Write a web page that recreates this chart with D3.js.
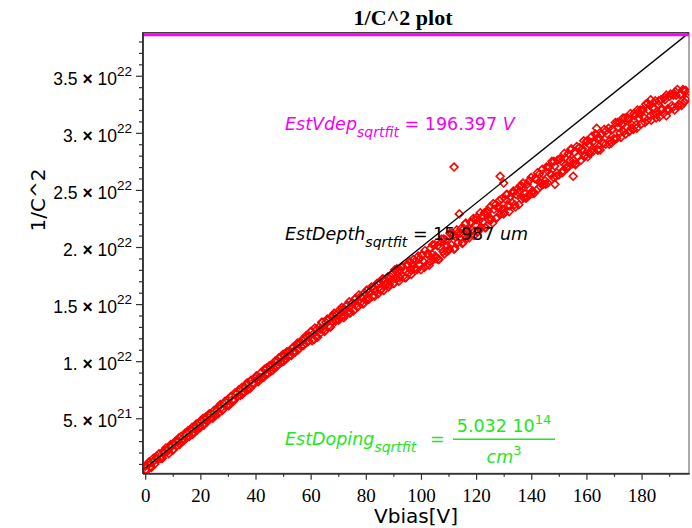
<!DOCTYPE html>
<html>
<head>
<meta charset="utf-8">
<script src="https://cdn.jsdelivr.net/npm/d3@7"></script>
<style>
  body { margin: 0; background: #fff; }
  svg { display: block; }
</style>
</head>
<body>
<svg id="chart" width="692" height="528"></svg>
<script>
// bias sweep: first point and step, V
const vStart = 0;
const vStep = 0.5;

// measured 1/C^2, in units of 1e20 (one value per bias step)
const invC2 = [
  8, 4, 9, 12, 8, 11, 15, 10, 15, 14,
  19, 15, 15, 21, 20, 24, 21, 19, 25, 25,
  22, 28, 30, 26, 30, 27, 34, 32, 31, 37,
  33, 39, 34, 39, 42, 38, 41, 45, 40, 46,
  42, 47, 50, 46, 51, 47, 53, 50, 54, 50,
  57, 53, 57, 54, 61, 59, 57, 63, 65, 61,
  66, 62, 69, 66, 65, 72, 71, 69, 75, 70,
  77, 73, 73, 79, 81, 77, 76, 83, 81, 80,
  85, 87, 82, 86, 90, 86, 86, 92, 94, 89,
  96, 91, 97, 94, 100, 95, 100, 103, 99, 99,
  106, 105, 102, 108, 104, 109, 105, 112, 109, 108,
  115, 110, 116, 113, 119, 114, 120, 122, 117, 122,
  126, 118, 124, 129, 122, 121, 130, 128, 134, 128,
  126, 134, 137, 131, 130, 139, 135, 142, 135, 141,
  136, 145, 139, 145, 138, 145, 149, 143, 152, 143,
  151, 144, 154, 150, 148, 158, 151, 156, 150, 160,
  154, 162, 154, 161, 165, 157, 163, 161, 168, 159,
  169, 163, 172, 162, 170, 167, 174, 167, 174, 171,
  168, 180, 172, 179, 170, 180, 182, 174, 180, 173,
  185, 177, 187, 176, 185, 181, 188, 180, 192, 185,
  180, 193, 187, 197, 184, 194, 184, 199, 194, 189,
  202, 190, 201, 189, 200, 207, 196, 194, 206, 201,
  197, 212, 202, 210, 198, 209, 215, 204, 208, 216,
  203, 216, 220, 208, 215, 208, 222, 215, 225, 214,
  224, 213, 223, 230, 217, 222, 230, 217, 230, 224,
  235, 224, 221, 233, 237, 226, 234, 241, 229, 233,
  229, 242, 246, 236, 231, 244, 239, 249, 237, 246,
  251, 237, 249, 242, 256, 247, 243, 255, 252, 246,
  261, 249, 247, 260, 259, 251, 264, 256, 268, 255,
  258, 270, 256, 270, 264, 275, 261, 271, 262, 276,
  263, 277, 275, 267, 282, 272, 269, 282, 276, 286,
  273, 283, 272, 288, 279, 287, 276, 286, 293, 280,
  292, 279, 290, 284, 297, 284, 291, 298, 285, 296,
  285, 299, 291, 303, 290, 299, 304, 293, 291, 303,
  295, 309, 295, 305, 309, 296, 307, 301, 313, 305,
  313, 301, 317, 307, 303, 315, 307, 320, 313, 320,
  308, 320, 313, 325, 311, 320, 324, 311, 322, 316,
  328, 316, 325, 314, 329, 321, 317, 329, 333, 321,
  320, 334, 324, 333, 320, 333, 338, 325, 333, 324,
  338, 327, 337, 331
];

// second sweep, interleaved: first point and step, V
const vStartB = 0.25;
const vStepB = 1;
const invC2B = [
  5, 11, 7, 13, 17, 15, 15, 22, 22, 27,
  23, 30, 33, 30, 31, 37, 40, 36, 43, 42,
  48, 44, 50, 54, 51, 52, 59, 62, 58, 64,
  61, 69, 66, 72, 75, 71, 77, 75, 83, 80,
  87, 84, 85, 93, 90, 95, 92, 100, 97, 104,
  100, 108, 105, 111, 108, 116, 116, 114, 122, 118,
  126, 119, 128, 124, 134, 127, 136, 130, 140, 136,
  136, 147, 140, 149, 142, 151, 155, 148, 157, 151,
  162, 155, 164, 157, 168, 162, 172, 167, 165, 176,
  168, 181, 173, 183, 173, 184, 180, 189, 181, 189,
  193, 182, 194, 187, 202, 192, 189, 204, 207, 196,
  198, 212, 199, 212, 212, 204, 221, 211, 221, 210,
  226, 216, 227, 217, 232, 225, 238, 225, 235, 242,
  230, 246, 236, 247, 235, 248, 254, 243, 243, 258,
  247, 260, 265, 253, 264, 255, 270, 263, 275, 265,
  277, 265, 278, 271, 285, 276, 273, 287, 285, 279,
  293, 282, 292, 299, 285, 298, 291, 302, 290, 303,
  294, 309, 300, 313, 299, 312, 304, 317, 304, 317,
  320, 309, 326, 315, 322, 313, 328, 320, 331, 320,
  332, 322, 336, 323, 334, 337, 329
];

// stray readings [V, 1/C^2 in 1e20]
const outliers = [
  [112, 270], [113.9, 229], [128.7, 262], [130, 256], [135.9, 253],
  [148.6, 255], [155.2, 262], [163.7, 304], [183.3, 329], [189, 315]
];

// sqrt fit: rising line and plateau (1e20 units)
const fitLine = [[0, 6.5], [197.2, 387.6]];
const lowFit = [[0, 7.8], [39, 83.5]];
const plateau = 386;

const xLimits = [-0.98, 197.2];
const yLimits = [1.8e20, 3.877e22];
const xTicks = [0, 20, 40, 60, 80, 100, 120, 140, 160, 180];
const xMinor = [10, 30, 50, 70, 90, 110, 130, 150, 170, 190];
const yTicks = [5e21, 1e22, 1.5e22, 2e22, 2.5e22, 3e22, 3.5e22];
const yMant = ["5.", "1.", "1.5", "2.", "2.5", "3.", "3.5"];
const yExp = ["21", "22", "22", "22", "22", "22", "22"];
const yMinor = [1e21, 2e21, 3e21, 4e21, 6e21, 7e21, 8e21, 9e21,
  1.1e22, 1.2e22, 1.3e22, 1.4e22, 1.6e22, 1.7e22, 1.8e22, 1.9e22,
  2.1e22, 2.2e22, 2.3e22, 2.4e22, 2.6e22, 2.7e22, 2.8e22, 2.9e22,
  3.1e22, 3.2e22, 3.3e22, 3.4e22, 3.6e22, 3.7e22, 3.8e22];

const E20 = 1e20;
const sans = "'DejaVu Sans', Verdana, sans-serif";
const serif = "'Liberation Serif', 'Times New Roman', serif";
const magenta = "#f000f0";
const green = "#22e622";

const svg = d3.select("#chart");
const plotLeft = 142.5, plotRight = 689, plotTop = 32.7, plotBottom = 473.3;

const x = d3.scaleLinear().domain(xLimits).range([plotLeft, plotRight]);
const y = d3.scaleLinear().domain(yLimits).range([plotBottom, plotTop]);

svg.append("defs").append("clipPath").attr("id", "plotclip")
  .append("rect")
  .attr("x", plotLeft).attr("y", plotTop)
  .attr("width", plotRight - plotLeft).attr("height", plotBottom - plotTop);

// plot box
svg.append("rect")
  .attr("x", plotLeft).attr("y", plotTop)
  .attr("width", plotRight - plotLeft).attr("height", plotBottom - plotTop)
  .attr("fill", "none").attr("stroke", "#555").attr("stroke-width", 1);

const plot = svg.append("g").attr("clip-path", "url(#plotclip)");

const diamond = "M0,-3.9L3.9,0L0,3.9L-3.9,0Z";

const points = invC2.map((v, i) => [vStart + i * vStep, v])
  .concat(invC2B.map((v, i) => [vStartB + i * vStepB, v]))
  .concat(outliers);

plot.append("g")
  .selectAll("path")
  .data(points)
  .join("path")
  .attr("d", diamond)
  .attr("transform", (d) => `translate(${x(d[0])},${y(d[1] * E20)})`)
  .attr("fill", "none")
  .attr("stroke", "#ff0000")
  .attr("stroke-width", 1.6);

const line = d3.line()
  .x((d) => x(d[0]))
  .y((d) => y(d[1] * E20));

plot.append("path")
  .datum(fitLine)
  .attr("d", line)
  .attr("fill", "none")
  .attr("stroke", "#000")
  .attr("stroke-width", 1.3);

plot.append("path")
  .datum(lowFit)
  .attr("d", line)
  .attr("fill", "none")
  .attr("stroke", green)
  .attr("stroke-width", 1.3)
  .attr("stroke-dasharray", "1.5,3");

plot.append("path")
  .datum([[xLimits[0], plateau], [xLimits[1], plateau]])
  .attr("d", line)
  .attr("fill", "none")
  .attr("stroke", "#ff00ff")
  .attr("stroke-width", 3);

svg.append("line")
  .attr("x1", plotLeft).attr("x2", plotRight)
  .attr("y1", plotTop).attr("y2", plotTop)
  .attr("stroke", "#333").attr("stroke-width", 1);

// axes
const xMinorAxis = svg.append("g")
  .attr("transform", `translate(0,${plotBottom})`)
  .call(d3.axisBottom(x).tickValues(xMinor).tickSize(3.5).tickSizeOuter(0).tickFormat(""));
const xAxis = svg.append("g")
  .attr("transform", `translate(0,${plotBottom})`)
  .call(d3.axisBottom(x).tickValues(xTicks).tickSize(6.5).tickSizeOuter(0));

const yMinorAxis = svg.append("g")
  .attr("transform", `translate(${plotLeft},0)`)
  .call(d3.axisLeft(y).tickValues(yMinor).tickSize(3.5).tickSizeOuter(0).tickFormat(""));
const yAxis = svg.append("g")
  .attr("transform", `translate(${plotLeft},0)`)
  .call(d3.axisLeft(y).tickValues(yTicks).tickSize(6.5).tickSizeOuter(0).tickFormat(""));

[xMinorAxis, xAxis, yMinorAxis, yAxis].forEach((g) => {
  g.select(".domain").attr("stroke", "#333").attr("stroke-width", 1.5);
  g.selectAll(".tick line").attr("stroke", "#333").attr("stroke-width", 1.2);
});

xAxis.selectAll(".tick text")
  .attr("y", 28.7)
  .attr("dy", null)
  .attr("fill", "#000")
  .style("font-family", serif)
  .style("font-size", "19px");

yAxis.selectAll(".tick text").each(function (d, i) {
  const t = d3.select(this)
    .attr("x", -10.5)
    .attr("y", 8.5)
    .attr("dy", null)
    .attr("fill", "#000")
    .attr("text-anchor", "end")
    .style("font-family", "'Liberation Sans', Arial, sans-serif")
    .style("font-size", "17.5px");
  t.append("tspan").text(yMant[i] + " ");
  t.append("tspan").style("font-weight", "bold").text("×");
  t.append("tspan").text(" 10");
  t.append("tspan").attr("dy", -9).style("font-size", "13.5px").text(yExp[i]);
});

// titles
svg.append("text")
  .attr("x", 403).attr("y", 25)
  .attr("text-anchor", "middle")
  .style("font-family", serif)
  .style("font-weight", "bold")
  .style("font-size", "22px")
  .text("1/C^2 plot");

svg.append("text")
  .attr("transform", "translate(45,200) rotate(-90)")
  .attr("text-anchor", "middle")
  .style("font-family", sans)
  .style("font-size", "20px")
  .text("1/C^2");

svg.append("text")
  .attr("x", 416).attr("y", 523)
  .attr("text-anchor", "middle")
  .style("font-family", sans)
  .style("font-size", "20px")
  .text("Vbias[V]");

// fit annotations
function estLabel(yPos, color, name, value, unit) {
  const t = svg.append("text")
    .attr("x", 285).attr("y", yPos)
    .attr("fill", color)
    .style("font-family", sans)
    .style("font-size", "17.5px");
  t.append("tspan").style("font-style", "italic").text(name);
  t.append("tspan").attr("dy", 7).style("font-style", "italic").style("font-size", "14px").text("sqrtfit");
  if (value !== null) {
    t.append("tspan").attr("dy", -7).text(" = " + value + " ");
    t.append("tspan").style("font-style", "italic").text(unit);
  }
  return t;
}

estLabel(130, magenta, "EstVdep", "196.397", "V");
estLabel(240, "#000", "EstDepth", "15.987", "um");
estLabel(445, green, "EstDoping", null, null);

svg.append("text")
  .attr("x", 430).attr("y", 445)
  .attr("fill", green)
  .style("font-family", sans)
  .style("font-size", "17.5px")
  .text("=");

const num = svg.append("text")
  .attr("x", 504).attr("y", 432)
  .attr("text-anchor", "middle")
  .attr("fill", green)
  .style("font-family", sans)
  .style("font-size", "17.5px");
num.append("tspan").text("5.032 10");
num.append("tspan").attr("dy", -8).style("font-size", "13px").text("14");

svg.append("line")
  .attr("x1", 453).attr("x2", 555)
  .attr("y1", 439.3).attr("y2", 439.3)
  .attr("stroke", green).attr("stroke-width", 1.5);

const den = svg.append("text")
  .attr("x", 504).attr("y", 463)
  .attr("text-anchor", "middle")
  .attr("fill", green)
  .style("font-family", sans)
  .style("font-size", "17.5px");
den.append("tspan").style("font-style", "italic").text("cm");
den.append("tspan").attr("dy", -8).style("font-size", "13px").text("3");
</script>
</body>
</html>
